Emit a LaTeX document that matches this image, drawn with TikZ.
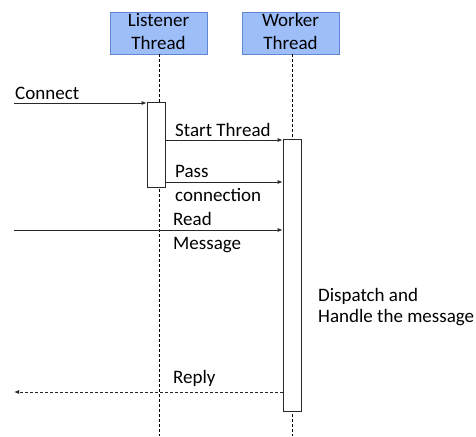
\documentclass[tikz,border=0pt]{standalone}
\usepackage{fontspec}
\setmainfont{Carlito}
\usetikzlibrary{arrows.meta}
\definecolor{headfill}{RGB}{158,190,250}
\definecolor{headdraw}{RGB}{95,135,210}
\definecolor{linegray}{RGB}{40,40,40}
\begin{document}
\begin{tikzpicture}[x=1pt,y=-1pt,
  every node/.style={font=\fontsize{19}{24}\selectfont},
  head/.style={draw=headdraw,fill=headfill,line width=0.8pt,minimum width=97pt,minimum height=42pt,inner sep=0pt},
  headtxt/.style={anchor=base,inner sep=0pt,font=\fontsize{19}{23}\selectfont},
  life/.style={densely dashed,line width=0.6pt,black},
  act/.style={draw=linegray,fill=white,line width=0.8pt,minimum width=18pt,inner sep=0pt},
  msg/.style={draw=linegray,line width=0.8pt,-{Latex[length=5pt,width=4pt]}},
  ret/.style={msg,densely dashed},
  lbl/.style={anchor=base west,inner sep=0pt,align=left}]
\useasboundingbox (0,0) rectangle (476,436);

% lifeline heads
\node[head] (L) at (158.5,33) {};
\node[head] (W) at (290.5,33) {};
\node[headtxt] (Lt1) at (158.5,27) {Listener};
\node[headtxt] (Lt2) at (158.5,50) {Thread};
\node[headtxt] (Wt1) at (290.5,27) {Worker};
\node[headtxt] (Wt2) at (290.5,50) {Thread};

% lifelines
\coordinate (Lend) at (159,436);
\coordinate (Wend) at (292,436);
\draw[life] (L.south -| Lend) -- (Lend);
\draw[life] (W.south -| Wend) -- (Wend);

% activation bars
\node[act,minimum height=85pt] (LA) at (156,144.5) {};
\node[act,minimum height=272pt] (WA) at (292,275) {};

% free ends of external messages
\coordinate (cin) at (14,103);
\coordinate (rin) at (14,230);
\coordinate (rout) at (14,392);

% messages
\draw[msg] (cin) -- (cin -| LA.west);
\node[lbl] (tc) at (15,99) {Connect};

\draw[msg] (LA.east |- 0,140) -- (WA.west |- 0,140);
\node[lbl] (ts) at (175,136) {Start Thread};

\draw[msg] (LA.east |- 0,182) -- (WA.west |- 0,182);
\node[lbl] (tp) at (175,177) {Pass};
\node[lbl] (tp2) at (175,201) {connection};

\draw[msg] (rin) -- (rin -| WA.west);
\node[lbl] (tr) at (173,225) {Read};
\node[lbl] (tr2) at (173,249) {Message};

\node[lbl] (td) at (318,301) {Dispatch and};
\node[lbl] (td2) at (318,322) {Handle the message};

\draw[ret] (WA.west |- rout) -- (rout);
\node[lbl] (trep) at (173,383) {Reply};
\end{tikzpicture}
\end{document}
